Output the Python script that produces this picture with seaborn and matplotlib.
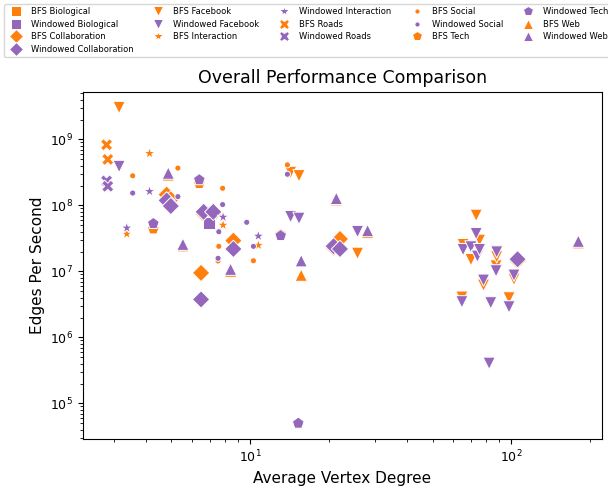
import numpy as np
import pandas as pd
import matplotlib

matplotlib.use("Agg")
import matplotlib.pyplot as plt
import seaborn as sns

nan = np.nan

# Valores: grado medio y aristas/segundo (BFS y Windowed)
categories = ["Biological", "Collaboration", "Facebook", "Interaction", "Roads", "Social", "Tech", "Web"]
algorithms = ["BFS", "Windowed"]

bio_deg = [6.95]
bio_bfs = [6.17e7]
bio_win = [5.42e7]

collab_deg = [4.79, 4.97, 6.64, 7.23, 6.49, 8.63, 20.9, 22.1, 105.9]
collab_bfs = [1.46e8, 1.24e8, 7.5e7, 7.5e7, 9.49e6, 2.93e7, 2.29e7, 3.10e7, 1.45e7]
collab_win = [1.19e8, 9.8e7, 8.0e7, 8.0e7, 3.76e6, 2.19e7, 2.41e7, 2.19e7, 1.53e7]

fb_deg = [3.15, 14.3, 15.4, 25.8, 64.8, 65.5, 70.2, 73.5, 74.3, 75.7, 78.4, 82.4, 83.6, 87.6, 88.1, 98.2, 102.6]
fb_bfs = [3.05e9, 3.17e8, 2.82e8, 1.88e7, 4.07e6, 2.55e7, 1.51e7, 7.08e7, nan, 2.96e7, 6.18e6, nan, nan,
          1.21e7, 1.66e7, 3.97e6, 7.62e6]
fb_win = [3.9e8, 6.77e7, 6.38e7, 4.02e7, 3.46e6, 2.14e7, 2.35e7, 3.74e7, 1.70e7, 2.14e7, 7.36e6, 4.05e5, 3.34e6,
          1.02e7, 1.97e7, 2.90e6, 8.77e6]

inter_deg = [4.12, 3.37, 7.88, 10.76]
inter_bfs = [6.14e8, 3.69e7, 5.03e7, 2.49e7]
inter_win = [1.63e8, 4.55e7, 6.65e7, 3.43e7]

roads_deg = [2.82, 2.85]
roads_bfs = [8.3e8, 4.98e8]
roads_win = [2.35e8, 1.95e8]

social_deg = [3.55, 5.29, 7.85, 7.59, 7.54, 9.71, 10.3, 13.9]
social_bfs = [2.81e8, 3.68e8, 1.82e8, 2.40e7, 1.44e7, nan, 1.45e7, 4.12e8]
social_win = [1.54e8, 1.36e8, 1.03e8, 3.99e7, 1.58e7, 5.55e7, 2.40e7, 2.97e8]

tech_deg = [6.39, 4.26, 13.1, 15.3]
tech_bfs = [2.14e8, 4.40e7, 3.65e7, nan]
tech_win = [2.45e8, 5.32e7, 3.49e7, 5.0e4]

web_deg = [4.86, 5.53, 8.42, 21.4, 28.2, 15.7, 181.0]
web_bfs = [2.90e8, 2.45e7, 1.01e7, 1.22e8, 3.92e7, 8.77e6, 2.72e7]
web_win = [3.09e8, 2.58e7, 1.08e7, 1.28e8, 4.16e7, 1.45e7, 2.87e7]

series = {
    "Biological": (bio_deg, bio_bfs, bio_win),
    "Collaboration": (collab_deg, collab_bfs, collab_win),
    "Facebook": (fb_deg, fb_bfs, fb_win),
    "Interaction": (inter_deg, inter_bfs, inter_win),
    "Roads": (roads_deg, roads_bfs, roads_win),
    "Social": (social_deg, social_bfs, social_win),
    "Tech": (tech_deg, tech_bfs, tech_win),
    "Web": (web_deg, web_bfs, web_win),
}
markers_by_cat = {"Biological": "s", "Collaboration": "D", "Facebook": "v", "Interaction": "*",
                  "Roads": "X", "Social": ".", "Tech": "p", "Web": "^"}
colors = {"BFS": "#ff7f0e", "Windowed": "#9467bd"}

rows = []
for alg in algorithms:  # BFS primero, Windowed queda encima
    for cat in categories:
        deg, bfs, win = series[cat]
        vals = bfs if alg == "BFS" else win
        for d, v in zip(deg, vals):
            rows.append({"degree": d, "eps": v, "label": f"{alg} {cat}"})
df = pd.DataFrame(rows).dropna()

order = [f"{alg} {cat}" for cat in categories for alg in algorithms]
palette = {lab: colors[lab.split()[0]] for lab in order}
markers = {lab: markers_by_cat[lab.split()[1]] for lab in order}

fig, ax = plt.subplots(figsize=(6.08, 4.92), dpi=100)
fig.subplots_adjust(left=0.1365, right=0.990, top=0.8136, bottom=0.1077)

sns.scatterplot(
    data=df, x="degree", y="eps", hue="label", style="label",
    hue_order=order, style_order=order, palette=palette, markers=markers,
    s=78, ax=ax, legend="full",
)
ax.set_xscale("log")
ax.set_yscale("log")
ax.set_xlabel("Average Vertex Degree", fontsize=11)
ax.set_ylabel("Edges Per Second", fontsize=11)
ax.set_title("Overall Performance Comparison", fontsize=12.5)
ax.tick_params(labelsize=9)

handles, labels = ax.get_legend_handles_labels()
ax.get_legend().remove()
fig.legend(handles, labels, ncol=5, fontsize=6.0, loc="upper left",
           bbox_to_anchor=(4 / 608, 1 - 4 / 492), borderaxespad=0,
           labelspacing=0.42, markerscale=0.85)

plt.savefig("out.png", dpi=100)
plt.close()
